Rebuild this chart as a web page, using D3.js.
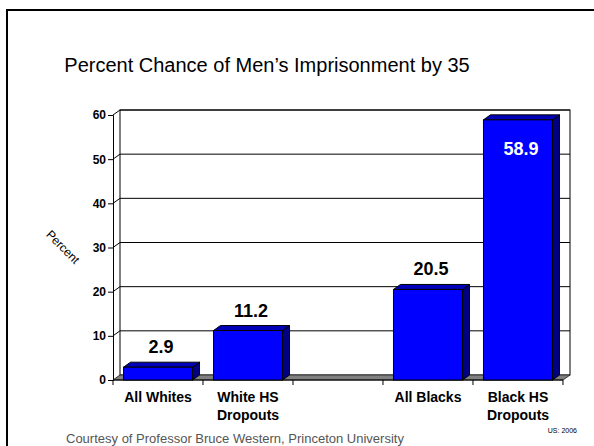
<!DOCTYPE html>
<html><head><meta charset="utf-8">
<script src="https://cdn.jsdelivr.net/npm/d3@7"></script>
<style>html,body{margin:0;padding:0;background:#fff;}svg{display:block;font-family:Arial,"Liberation Sans",sans-serif;}</style>
</head><body>
<script>
const categories = ["All Whites", "White HS Dropouts", "", "All Blacks", "Black HS Dropouts"];
const categoryLines = [["All Whites"], ["White HS", "Dropouts"], [], ["All Blacks"], ["Black HS", "Dropouts"]];
const values = [2.9, 11.2, null, 20.5, 58.9];
const yTicks = [0, 10, 20, 30, 40, 50, 60];
const titleText = "Percent Chance of Men\u2019s Imprisonment by 35";
const footerText = "Courtesy of Professor Bruce Western, Princeton University";

const W = 594, H = 446;
const svg = d3.select("body").append("svg").attr("width", W).attr("height", H);

// frame
svg.append("rect").attr("x", 7).attr("y", 10).attr("width", 620).attr("height", 460)
  .attr("fill", "none").attr("stroke", "#000").attr("stroke-width", 2);

svg.append("text").attr("x", 267).attr("y", 72).attr("text-anchor", "middle")
  .attr("font-size", 20).attr("fill", "#000").text(titleText);

const x0 = 113, x1 = 563, yBase = 380, yTop = 115;
const dx = 7, dy = -5;
const x = d3.scaleBand().domain(categories.map((c, i) => i)).range([x0, x1])
  .paddingInner(0.233).paddingOuter(0.1167);
const y = d3.scaleLinear().domain([0, 60]).range([yBase, yTop]);

// back wall
const g = svg.append("g");
g.append("rect").attr("x", x0 + dx).attr("y", yTop + dy).attr("width", x1 - x0).attr("height", yBase - yTop)
  .attr("fill", "#fff").attr("stroke", "#000").attr("stroke-width", 1);
// gridlines
yTicks.forEach(t => {
  if (t === 0) return;
  g.append("path").attr("d", `M${x0},${y(t)}L${x0 + dx},${y(t) + dy}H${x1 + dx}`)
    .attr("fill", "none").attr("stroke", "#000").attr("stroke-width", 1);
});
// floor
g.append("path").attr("d", `M${x0},${yBase}L${x0 + dx},${yBase + dy}H${x1 + dx}L${x1},${yBase}Z`)
  .attr("fill", "#808080").attr("stroke", "#333").attr("stroke-width", 1);

// y axis
const yAxis = d3.axisLeft(y).tickValues(yTicks).tickSize(5).tickPadding(2);
const ya = svg.append("g").attr("transform", `translate(${x0},0)`).call(yAxis);
ya.select(".domain").attr("stroke", "#000");
ya.selectAll(".tick line").attr("stroke", "#000");
ya.selectAll(".tick text").attr("font-size", 12).attr("font-weight", "bold").attr("fill", "#000")
  .attr("font-family", "Arial, 'Liberation Sans', sans-serif");

// x axis
const step = x.step();
const xa = svg.append("g");
xa.append("line").attr("x1", x0).attr("x2", x1).attr("y1", yBase).attr("y2", yBase).attr("stroke", "#000");
d3.range(categories.length + 1).forEach(i => {
  const xx = x0 + i * step;
  xa.append("line").attr("x1", xx).attr("x2", xx).attr("y1", yBase).attr("y2", yBase + 5).attr("stroke", "#000");
});
categoryLines.forEach((lines, i) => {
  lines.forEach((ln, j) => {
    xa.append("text").attr("x", x(i) + x.bandwidth() / 2).attr("y", 402 + j * 18)
      .attr("text-anchor", "middle").attr("font-size", 14).attr("font-weight", "bold")
      .attr("fill", "#000").text(ln);
  });
});

// bars
const bw = x.bandwidth();
const bars = svg.append("g");
values.forEach((v, i) => {
  if (v == null) return;
  const bx = x(i), by = y(v);
  bars.append("path").attr("d", `M${bx + bw},${by}L${bx + bw + dx},${by + dy}V${yBase + dy}L${bx + bw},${yBase}Z`)
    .attr("fill", "#000080").attr("stroke", "#000").attr("stroke-width", 1);
  bars.append("path").attr("d", `M${bx},${by}L${bx + dx},${by + dy}H${bx + bw + dx}L${bx + bw},${by}Z`)
    .attr("fill", "#0000b8").attr("stroke", "#000").attr("stroke-width", 1);
  bars.append("rect").attr("x", bx).attr("y", by).attr("width", bw).attr("height", yBase - by)
    .attr("fill", "#0000ff").attr("stroke", "#000").attr("stroke-width", 1);
  const inside = v > 50;
  bars.append("text").attr("x", bx + bw / 2 + 3)
    .attr("y", inside ? by + 35 : by - 14)
    .attr("text-anchor", "middle").attr("font-size", 18).attr("font-weight", "bold")
    .attr("fill", inside ? "#fff" : "#000").text(v.toFixed(1));
});

// y label
svg.append("text").attr("transform", "translate(63,247) rotate(45)").attr("text-anchor", "middle")
  .attr("dy", "0.35em").attr("font-size", 12).attr("fill", "#000").text("Percent");

svg.append("text").attr("x", 577).attr("y", 433).attr("text-anchor", "end")
  .attr("font-size", 7).attr("fill", "#000").text("US: 2006");

svg.append("text").attr("x", 66).attr("y", 443).attr("font-size", 13).attr("fill", "#555").text(footerText);
</script>
</body></html>
